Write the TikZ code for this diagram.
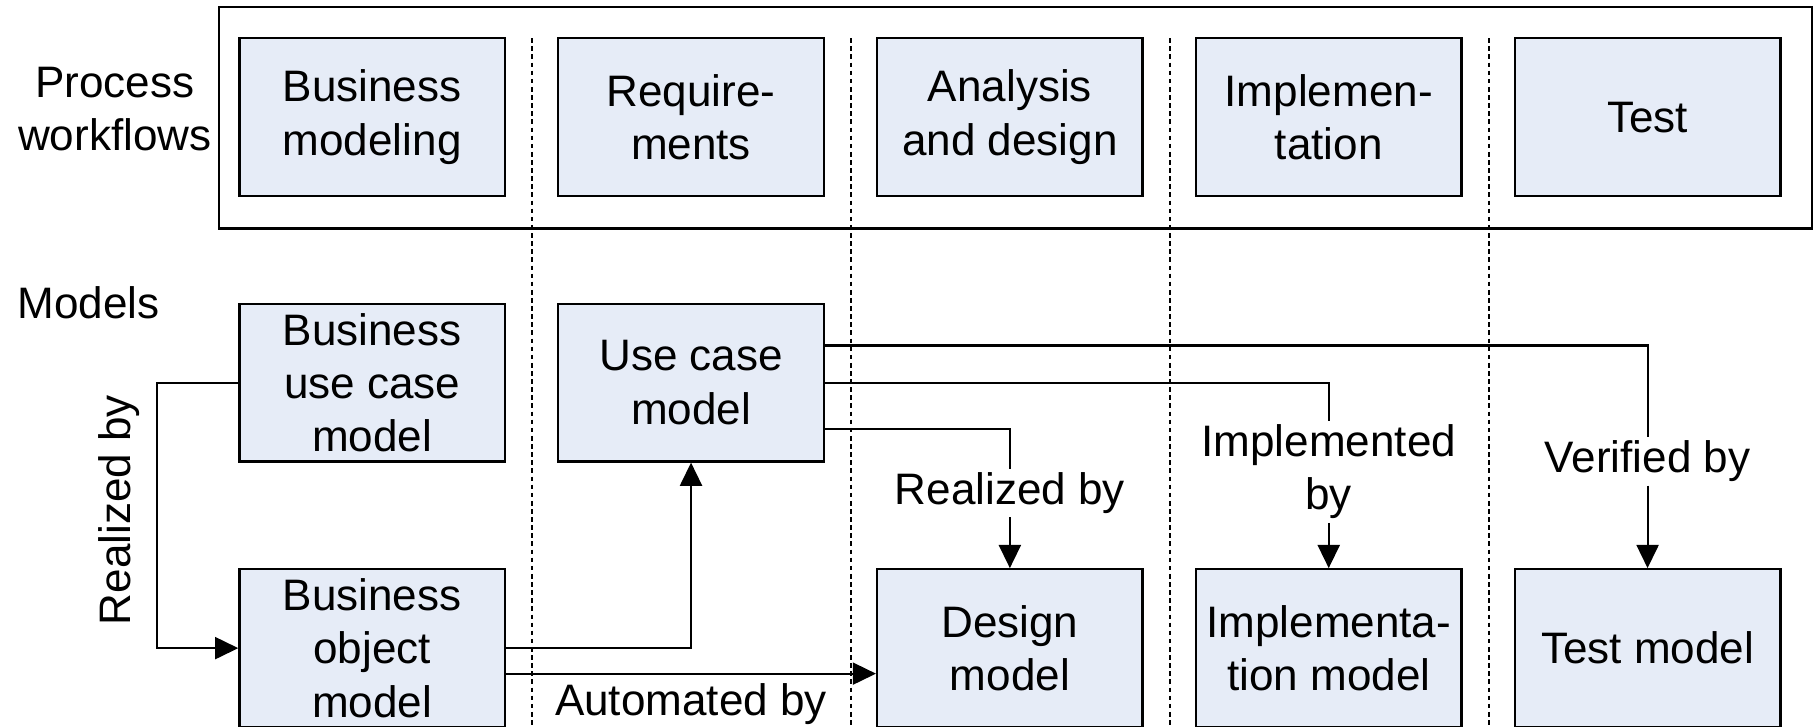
\documentclass[tikz,border=0pt]{standalone}
\usepackage{fontspec}
\setmainfont{Liberation Sans}
\usetikzlibrary{arrows.meta}
\definecolor{boxblue}{RGB}{230,236,247}
\begin{document}
\begin{tikzpicture}[x=1pt, y=-1pt,
  font=\fontsize{38}{46}\selectfont,
  box/.style={draw, line width=2pt, fill=boxblue, minimum width=229pt,
    minimum height=136pt, align=center, inner sep=2pt},
  lbl/.style={fill=white, inner sep=3pt, align=center},
  link/.style={line width=1.8pt},
  arr/.style={link, -{Triangle[length=20pt, width=19pt]}}]
\useasboundingbox (0,0) rectangle (1568,627);
\foreach \sx in {459, 734, 1009, 1284}
  \draw[dash pattern=on 4pt off 3pt, line width=1.4pt] (\sx,33) -- (\sx,627);
\draw[line width=2pt] (189,6) rectangle (1563,197);
\node[align=center, inner sep=0pt] (pw) at (99,94) {Process\\workflows};
\node[anchor=west, inner sep=0pt] (mdl) at (15,261) {Models};
% workflows
\node[box] (wbm) at (321,101) {Business\\modeling};
\node[box] (wrq) at (596,101) {Require-\\ments};
\node[box] (wad) at (871,101) {Analysis\\and design};
\node[box] (wim) at (1146,101) {Implemen-\\tation};
\node[box] (wts) at (1421,101) {Test};
% models
\node[box] (buc) at (321,330) {Business\\use case\\model};
\node[box] (uc) at (596,330) {Use case\\model};
\node[box] (bom) at (321,559) {Business\\object\\model};
\node[box] (dsg) at (871,559) {Design\\model};
\node[box] (imp) at (1146,559) {Implementa-\\tion model};
\node[box] (tst) at (1421,559) {Test model};
% labels
\node[rotate=90, inner sep=0pt] (rlz) at (103,440) {Realized by};
\node[lbl] (aut) at (596,607) {Automated by};
\node[lbl] (rdes) at (871,425) {Realized by};
\node[lbl] (impby) at (1146,407) {Implemented\\by};
\node[lbl] (verby) at (1421,398) {Verified by};
% connectors
\draw[arr] (buc.west) -- ++(-70,0) |- (bom.west);
\draw[arr] (bom.east) -| (uc.south);
\draw[arr] ([yshift=-22pt]bom.east) -- ([yshift=-22pt]dsg.west);
\draw[link] ([yshift=-40pt]uc.east) -| (rdes.north);
\draw[arr] (rdes.south) -- (dsg.north);
\draw[link] (uc.east) -| (impby.north);
\draw[arr] (impby.south) -- (imp.north);
\draw[link] ([yshift=32pt]uc.east) -| (verby.north);
\draw[arr] (verby.south) -- (tst.north);
\end{tikzpicture}
\end{document}
